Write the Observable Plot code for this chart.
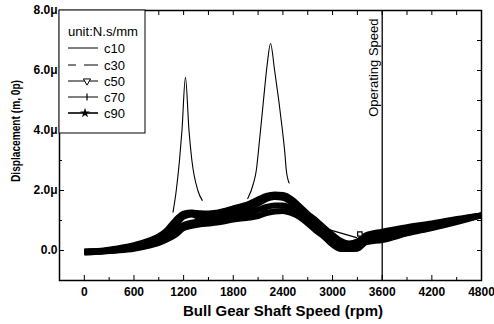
<!DOCTYPE html>
<html><head><meta charset="utf-8">
<script src="https://cdn.jsdelivr.net/npm/d3@7"></script>
<script src="https://cdn.jsdelivr.net/npm/@observablehq/plot@0.6"></script>
<style>html,body{margin:0;padding:0;background:#fff} svg{display:block}</style>
</head><body><div id="chart"></div>
<script>
// ---- data (displacement in micrometres) ----
const speeds = [0,200,400,600,800,900,1000,1100,1200,1300,1400,1500,1600,1800,2000,2100,2200,2300,2400,2500,2600,2700,2800,2900,3000,3100,3200,3300,3400,3600,3900,4200,4500,4800];
const c30 = [-0.03,-0.01,0.07,0.18,0.35,0.47,0.68,1.0,1.23,1.27,1.24,1.23,1.26,1.4,1.57,1.7,1.82,1.87,1.85,1.72,1.48,1.22,1.0,0.75,0.52,0.32,0.23,0.3,0.5,0.63,0.78,0.9,1.05,1.17];
const c50 = [-0.04,-0.02,0.05,0.14,0.29,0.4,0.58,0.85,1.13,1.2,1.1,1.08,1.1,1.26,1.42,1.56,1.72,1.78,1.76,1.6,1.38,1.1,0.88,0.64,0.42,0.22,0.14,0.2,0.42,0.52,0.7,0.85,1.02,1.17];
const c70 = [-0.06,-0.03,0.02,0.1,0.23,0.32,0.47,0.68,0.85,0.93,0.97,0.98,1.01,1.14,1.26,1.35,1.45,1.5,1.5,1.4,1.25,1.0,0.78,0.55,0.32,0.12,0.06,0.1,0.35,0.43,0.63,0.8,0.98,1.17];
const c90 = [-0.07,-0.04,0.0,0.06,0.17,0.25,0.37,0.52,0.75,0.82,0.87,0.9,0.93,1.03,1.1,1.15,1.25,1.3,1.32,1.25,1.12,0.9,0.66,0.45,0.2,0.05,0.05,0.06,0.27,0.35,0.57,0.75,0.95,1.17];
// c10: only the parts that stand out of the band (null = hidden / break)
const c10Speeds = [1072,1111,1150,1180,1222,1265,1300,1372,1425,1700,1975,2040,2080,2100,2165,2210,2250,2300,2350,2390,2425,2440,2475,2700,2915,3290];
const c10 = [1.28,2.0,3.0,4.0,5.77,4.0,3.0,2.0,1.67,null,1.73,2.2,2.7,3.2,5.0,6.2,6.9,6.0,5.0,4.1,3.2,2.7,2.25,null,0.73,0.43];
const c50MarkerSpeeds = [3330];
const c50MarkerValues = [0.55];

const xTicks = [0,600,1200,1800,2400,3000,3600,4200,4800];
const xMinorTicks = [300,900,1500,2100,2700,3300,3900,4500];
const yTicks = [0,2,4,6,8];
const yTickLabels = ["0.0","2.0\u03bc","4.0\u03bc","6.0\u03bc","8.0\u03bc"];
const yMinorTicks = [-1,1,3,5,7];
const operatingSpeed = 3600;
const operatingLabel = "Operating Speed";
const xTitle = "Bull Gear Shaft Speed (rpm)";
const yTitle = "Displacement (m, 0p)";
const legendTitle = "unit:N.s/mm";
const seriesNames = ["c10","c30","c50","c70","c90"];

// ---- tables ----
const bandSeries = {c30, c50, c70, c90};
const bandRows = [];
for (const [name, vals] of Object.entries(bandSeries))
  speeds.forEach((s, i) => bandRows.push({speed: s, value: vals[i], series: name}));
const c10Rows = [];
let seg = 0;
c10Speeds.forEach((s, i) => {
  if (c10[i] == null) { seg++; return; }
  c10Rows.push({speed: s, value: c10[i], segment: seg});
});
const markerRows = c50MarkerSpeeds.map((s, i) => ({speed: s, value: c50MarkerValues[i]}));

const fontFamily = "'Liberation Sans', Arial, Helvetica, sans-serif";

const chart = Plot.plot({
  width: 494, height: 324,
  marginLeft: 59, marginRight: 13, marginTop: 10, marginBottom: 44,
  style: {fontFamily, fontSize: "12px", color: "black", background: "white", overflow: "visible"},
  x: {domain: [-300, 4800]},
  y: {domain: [-1, 8]},
  marks: [
    Plot.line(bandRows, {x: "speed", y: "value", z: "series", stroke: "black", strokeWidth: 6, curve: "monotone-x", strokeLinecap: "butt", strokeLinejoin: "round"}),
    Plot.line(c10Rows, {x: "speed", y: "value", z: "segment", stroke: "black", strokeWidth: 1.1, curve: "monotone-x"}),
    Plot.dot(markerRows, {x: "speed", y: "value", symbol: "square", r: 2.5, stroke: "black", fill: "white", strokeWidth: 1.2}),
    Plot.ruleX([operatingSpeed], {stroke: "black", strokeWidth: 1.3}),
    Plot.text([operatingSpeed], {x: d => d, frameAnchor: "top", text: () => operatingLabel, rotate: -90, textAnchor: "end", dy: 8, dx: -13, fontSize: 13}),
    Plot.axisX(xTicks, {anchor: "bottom", tickSize: -5, tickPadding: 12, label: null, fontSize: 12, fontWeight: "bold", tickFormat: d => String(d)}),
    Plot.axisX(xMinorTicks, {anchor: "bottom", tickSize: -3, text: null, label: null}),
    Plot.axisX([...xTicks, ...xMinorTicks], {anchor: "top", tickSize: -4, text: null, label: null}),
    Plot.axisY(yTicks, {anchor: "left", tickSize: -5, tickPadding: 7, label: null, fontSize: 12, fontWeight: "bold", tickFormat: d => yTickLabels[yTicks.indexOf(d)]}),
    Plot.axisY(yMinorTicks, {anchor: "left", tickSize: -3, text: null, label: null}),
    Plot.axisY([...yTicks, ...yMinorTicks], {anchor: "right", tickSize: -5, text: null, label: null}),
    Plot.frame({stroke: "black", strokeWidth: 1.5})
  ]
});
document.getElementById("chart").appendChild(chart);

// ---- titles and legend ----
const svg = d3.select(chart);
svg.append("text").attr("x", 283).attr("y", 316).attr("text-anchor", "middle")
  .attr("font-family", fontFamily).attr("font-size", 15).attr("font-weight", "bold").text(xTitle);
svg.append("text").attr("transform", "translate(20,131) rotate(-90)").attr("text-anchor", "middle")
  .attr("font-family", fontFamily).attr("font-size", 12.5).attr("font-weight", "bold")
  .attr("textLength", 102).attr("lengthAdjust", "spacingAndGlyphs").text(yTitle);

const lg = svg.append("g").attr("font-family", fontFamily).attr("font-size", 13).attr("text-anchor", "start");
lg.append("rect").attr("x", 59).attr("y", 10).attr("width", 86).attr("height", 123)
  .attr("fill", "white").attr("stroke", "black").attr("stroke-width", 1);
lg.append("text").attr("x", 68).attr("y", 36).attr("textLength", 70).attr("lengthAdjust", "spacingAndGlyphs").text(legendTitle);
const rowY = [48, 65, 81, 97, 113];
seriesNames.forEach((name, i) => {
  const y = rowY[i];
  const ln = lg.append("line").attr("x1", 68).attr("x2", 98).attr("y1", y).attr("y2", y)
    .attr("stroke", "black").attr("stroke-width", name === "c90" ? 1.6 : 1);
  if (name === "c30") ln.attr("stroke-dasharray", "8,8,14");
  if (name === "c50") lg.append("path").attr("d", d3.symbol(d3.symbolTriangle, 22)()).attr("transform", `translate(87,${y}) rotate(180)`)
    .attr("fill", "white").attr("stroke", "black").attr("stroke-width", 1);
  if (name === "c70") lg.append("line").attr("x1", 87).attr("x2", 87).attr("y1", y - 3.5).attr("y2", y + 3.5).attr("stroke", "black").attr("stroke-width", 1.2);
  if (name === "c90") lg.append("path").attr("d", d3.symbol(d3.symbolStar, 30)()).attr("transform", `translate(85,${y})`).attr("fill", "black");
  lg.append("text").attr("x", 104).attr("y", y + 4.5).text(name);
});
</script>
</body></html>
